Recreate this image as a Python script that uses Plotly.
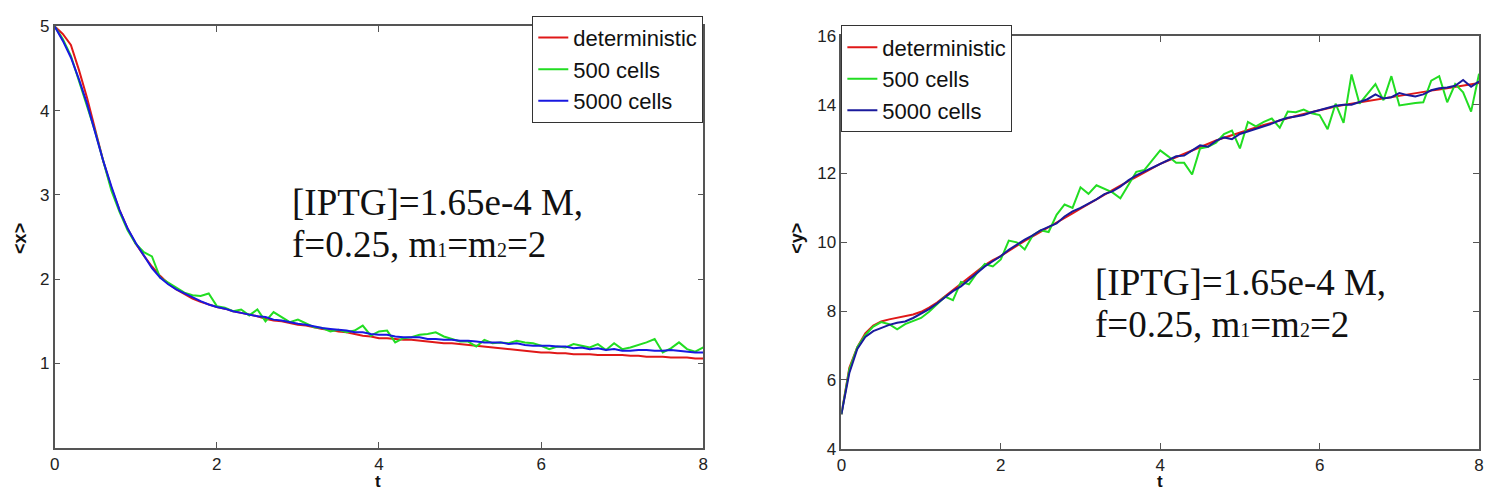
import numpy as np
import plotly.graph_objects as go

W, H = 1494, 502

# time grid (81 samples, step 0.1)
t = [round(i * 0.1, 1) for i in range(81)]

# ---- left panel: <x> ----
x_det = [5.00, 4.91, 4.78, 4.48, 4.15, 3.78, 3.40, 3.08, 2.82, 2.60,
         2.42, 2.28, 2.15, 2.04, 1.95, 1.88, 1.82, 1.77, 1.73, 1.70,
         1.67, 1.65, 1.62, 1.60, 1.58, 1.56, 1.53, 1.51, 1.50, 1.48,
         1.46, 1.45, 1.43, 1.41, 1.40, 1.38, 1.37, 1.35, 1.33, 1.32,
         1.30, 1.30, 1.29, 1.28, 1.28, 1.27, 1.26, 1.25, 1.24, 1.24,
         1.23, 1.22, 1.21, 1.20, 1.19, 1.18, 1.17, 1.16, 1.15, 1.14,
         1.13, 1.13, 1.12, 1.12, 1.11, 1.11, 1.11, 1.10, 1.10, 1.10,
         1.10, 1.09, 1.09, 1.08, 1.08, 1.08, 1.07, 1.07, 1.07, 1.06,
         1.06]
x_500 = [5.00, 4.85, 4.65, 4.35, 4.05, 3.75, 3.40, 3.05, 2.80, 2.58,
         2.42, 2.32, 2.27, 2.02, 1.96, 1.90, 1.84, 1.81, 1.80, 1.83,
         1.68, 1.66, 1.62, 1.64, 1.57, 1.64, 1.50, 1.61, 1.55, 1.49,
         1.52, 1.47, 1.43, 1.42, 1.38, 1.40, 1.37, 1.39, 1.45, 1.33,
         1.38, 1.39, 1.25, 1.30, 1.31, 1.34, 1.35, 1.37, 1.32, 1.29,
         1.26, 1.26, 1.20, 1.28, 1.24, 1.25, 1.24, 1.27, 1.25, 1.24,
         1.21, 1.17, 1.20, 1.19, 1.23, 1.21, 1.19, 1.23, 1.16, 1.24,
         1.17, 1.19, 1.22, 1.25, 1.29, 1.13, 1.18, 1.25, 1.17, 1.14,
         1.19]
x_5000 = [5.00, 4.83, 4.63, 4.37, 4.08, 3.74, 3.40, 3.10, 2.82, 2.60,
          2.43, 2.28, 2.13, 2.02, 1.94, 1.88, 1.83, 1.78, 1.74, 1.70,
          1.67, 1.65, 1.62, 1.60, 1.58, 1.56, 1.55, 1.52, 1.51, 1.49,
          1.47, 1.46, 1.44, 1.42, 1.41, 1.40, 1.39, 1.37, 1.37, 1.35,
          1.34, 1.34, 1.32, 1.31, 1.31, 1.31, 1.29, 1.29, 1.28, 1.28,
          1.27, 1.27, 1.26, 1.25, 1.25, 1.25, 1.23, 1.24, 1.22, 1.21,
          1.21, 1.21, 1.20, 1.20, 1.18, 1.19, 1.17, 1.18, 1.16, 1.17,
          1.15, 1.15, 1.16, 1.16, 1.15, 1.15, 1.16, 1.15, 1.14, 1.13,
          1.13]

# ---- right panel: <y> ----
y_det = [5.00, 6.35, 6.95, 7.35, 7.58, 7.70, 7.76, 7.80, 7.84, 7.90,
         7.98, 8.10, 8.25, 8.43, 8.62, 8.80, 8.98, 9.17, 9.34, 9.48,
         9.60, 9.75, 9.90, 10.04, 10.17, 10.30, 10.43, 10.56, 10.70, 10.84,
         10.98, 11.12, 11.26, 11.39, 11.52, 11.65, 11.78, 11.91, 12.04, 12.16,
         12.28, 12.38, 12.48, 12.58, 12.68, 12.78, 12.87, 12.96, 13.04, 13.12,
         13.20, 13.27, 13.34, 13.41, 13.48, 13.55, 13.61, 13.67, 13.73, 13.79,
         13.85, 13.90, 13.95, 13.99, 14.03, 14.07, 14.11, 14.15, 14.19, 14.23,
         14.27, 14.30, 14.34, 14.37, 14.41, 14.44, 14.48, 14.51, 14.55, 14.59,
         14.63]
y_500 = [5.00, 6.30, 6.95, 7.30, 7.55, 7.68, 7.62, 7.47, 7.62, 7.72,
         7.80, 7.98, 8.20, 8.42, 8.32, 8.85, 8.78, 9.10, 9.37, 9.30,
         9.50, 10.05, 10.00, 9.79, 10.20, 10.35, 10.30, 10.80, 11.10, 11.00,
         11.60, 11.41, 11.66, 11.55, 11.45, 11.28, 11.66, 12.05, 12.10, 12.40,
         12.67, 12.50, 12.31, 12.31, 11.97, 12.73, 12.78, 12.90, 13.15, 13.25,
         12.73, 13.50, 13.37, 13.50, 13.60, 13.33, 13.80, 13.78, 13.86, 13.75,
         13.70, 13.29, 14.03, 13.47, 14.88, 14.03, 14.30, 14.60, 14.13, 14.83,
         13.98, 14.02, 14.05, 14.07, 14.70, 14.83, 14.07, 14.60, 14.36, 13.80,
         14.90]
y_5000 = [5.00, 6.20, 6.90, 7.25, 7.42, 7.52, 7.60, 7.66, 7.70, 7.80,
          7.93, 8.06, 8.22, 8.40, 8.58, 8.72, 8.92, 9.12, 9.30, 9.45,
          9.60, 9.78, 9.93, 10.08, 10.20, 10.35, 10.45, 10.55, 10.75, 10.90,
          11.00, 11.12, 11.25, 11.40, 11.48, 11.62, 11.80, 11.95, 12.06, 12.18,
          12.28, 12.40, 12.50, 12.52, 12.68, 12.82, 12.78, 12.95, 13.05, 13.00,
          13.15, 13.22, 13.30, 13.38, 13.45, 13.55, 13.62, 13.66, 13.70, 13.78,
          13.85, 13.90, 13.97, 14.00, 14.00, 14.08, 14.16, 14.30, 14.18, 14.22,
          14.34, 14.28, 14.24, 14.30, 14.42, 14.48, 14.50, 14.55, 14.72, 14.52,
          14.68]

series_names = ["deterministic", "500 cells", "5000 cells"]
x_ticks = [0, 2, 4, 6, 8]
left_yticks = [1, 2, 3, 4, 5]
right_yticks = [4, 6, 8, 10, 12, 14, 16]
note_line1 = "[IPTG]=1.65e-4 M,"
note_line2 = ("f=0.25, m<span style=\"font-size:20px\">1</span>="
              "m<span style=\"font-size:20px\">2</span>=2")

RED = "#e01818"
GREEN = "#22dd22"
BLUE_L = "#1818e0"
BLUE_R = "#1a1a9c"

def px(xp):
    return xp / W

def py(yp):
    return 1 - yp / H

fig = go.Figure()
for vals, name, col in [(x_det, series_names[0], RED),
                        (x_500, series_names[1], GREEN),
                        (x_5000, series_names[2], BLUE_L)]:
    fig.add_trace(go.Scatter(x=t, y=vals, mode="lines", name=name,
                             line=dict(color=col, width=2),
                             xaxis="x", yaxis="y", legend="legend"))
for vals, name, col in [(y_det, series_names[0], RED),
                        (y_500, series_names[1], GREEN),
                        (y_5000, series_names[2], BLUE_R)]:
    fig.add_trace(go.Scatter(x=t, y=vals, mode="lines", name=name,
                             line=dict(color=col, width=2),
                             xaxis="x2", yaxis="y2", legend="legend2"))

tickfont = dict(family="Arial, Liberation Sans, sans-serif", size=17, color="#222")
axcommon = dict(showline=True, linecolor="#555", linewidth=1.5, mirror="ticks",
                ticks="inside", ticklen=6, tickcolor="#555", tickwidth=1,
                showgrid=False, zeroline=False, tickfont=tickfont)

legfont = dict(family="Arial, Liberation Sans, sans-serif", size=22, color="#111")
fig.update_layout(
    width=W, height=H,
    margin=dict(l=0, r=0, t=0, b=0),
    paper_bgcolor="white", plot_bgcolor="white",
    xaxis=dict(domain=[px(50), px(703)], range=[0, 8], tickvals=x_ticks,
               anchor="y", **axcommon),
    yaxis=dict(domain=[py(456), py(18)], range=[0, 5], tickvals=left_yticks,
               anchor="x", **axcommon),
    xaxis2=dict(domain=[px(842), px(1484)], range=[0, 8], tickvals=x_ticks,
                anchor="y2", **axcommon),
    yaxis2=dict(domain=[py(457), py(28)], range=[4, 16], tickvals=right_yticks,
                anchor="x2", **axcommon),
    legend=dict(x=px(703), y=py(7), xanchor="right", yanchor="top",
                bgcolor="white", bordercolor="#333", borderwidth=1,
                font=legfont, itemwidth=30, tracegroupgap=0),
    legend2=dict(x=px(842), y=py(17), xanchor="left", yanchor="top",
                 bgcolor="white", bordercolor="#333", borderwidth=1,
                 font=legfont, itemwidth=30, tracegroupgap=0),
    showlegend=True,
)

serif = dict(family="Times New Roman, Liberation Serif, serif", size=37, color="#111")
ann = []
for xx, yb1, yb2 in [(287, 214, 257), (1095, 297, 340)]:
    ann.append(dict(text=note_line1, x=px(xx), y=py(yb1 - 12.5), xref="paper", yref="paper",
                    xanchor="left", yanchor="middle", showarrow=False, font=serif))
    ann.append(dict(text=note_line2, x=px(xx), y=py(yb2 - 12.5), xref="paper", yref="paper",
                    xanchor="left", yanchor="middle", showarrow=False, font=serif))

lab = dict(family="Arial, Liberation Sans, sans-serif", size=17, color="#111")
ann.append(dict(text="<b>t</b>", x=px(376), y=py(502), xref="paper", yref="paper",
                showarrow=False, font=lab, xanchor="center", yanchor="bottom", borderpad=0))
ann.append(dict(text="<b>t</b>", x=px(1163), y=py(502), xref="paper", yref="paper",
                showarrow=False, font=lab, xanchor="center", yanchor="bottom", borderpad=0))
ann.append(dict(text="<b>&lt;x&gt;</b>", x=px(15), y=py(238), xref="paper", yref="paper",
                showarrow=False, font=dict(lab, size=18), textangle=-90,
                xanchor="center", yanchor="middle"))
ann.append(dict(text="<b>&lt;y&gt;</b>", x=px(797), y=py(238), xref="paper", yref="paper",
                showarrow=False, font=dict(lab, size=18), textangle=-90,
                xanchor="center", yanchor="middle"))
fig.update_layout(annotations=ann)

fig.write_html("out.html")
